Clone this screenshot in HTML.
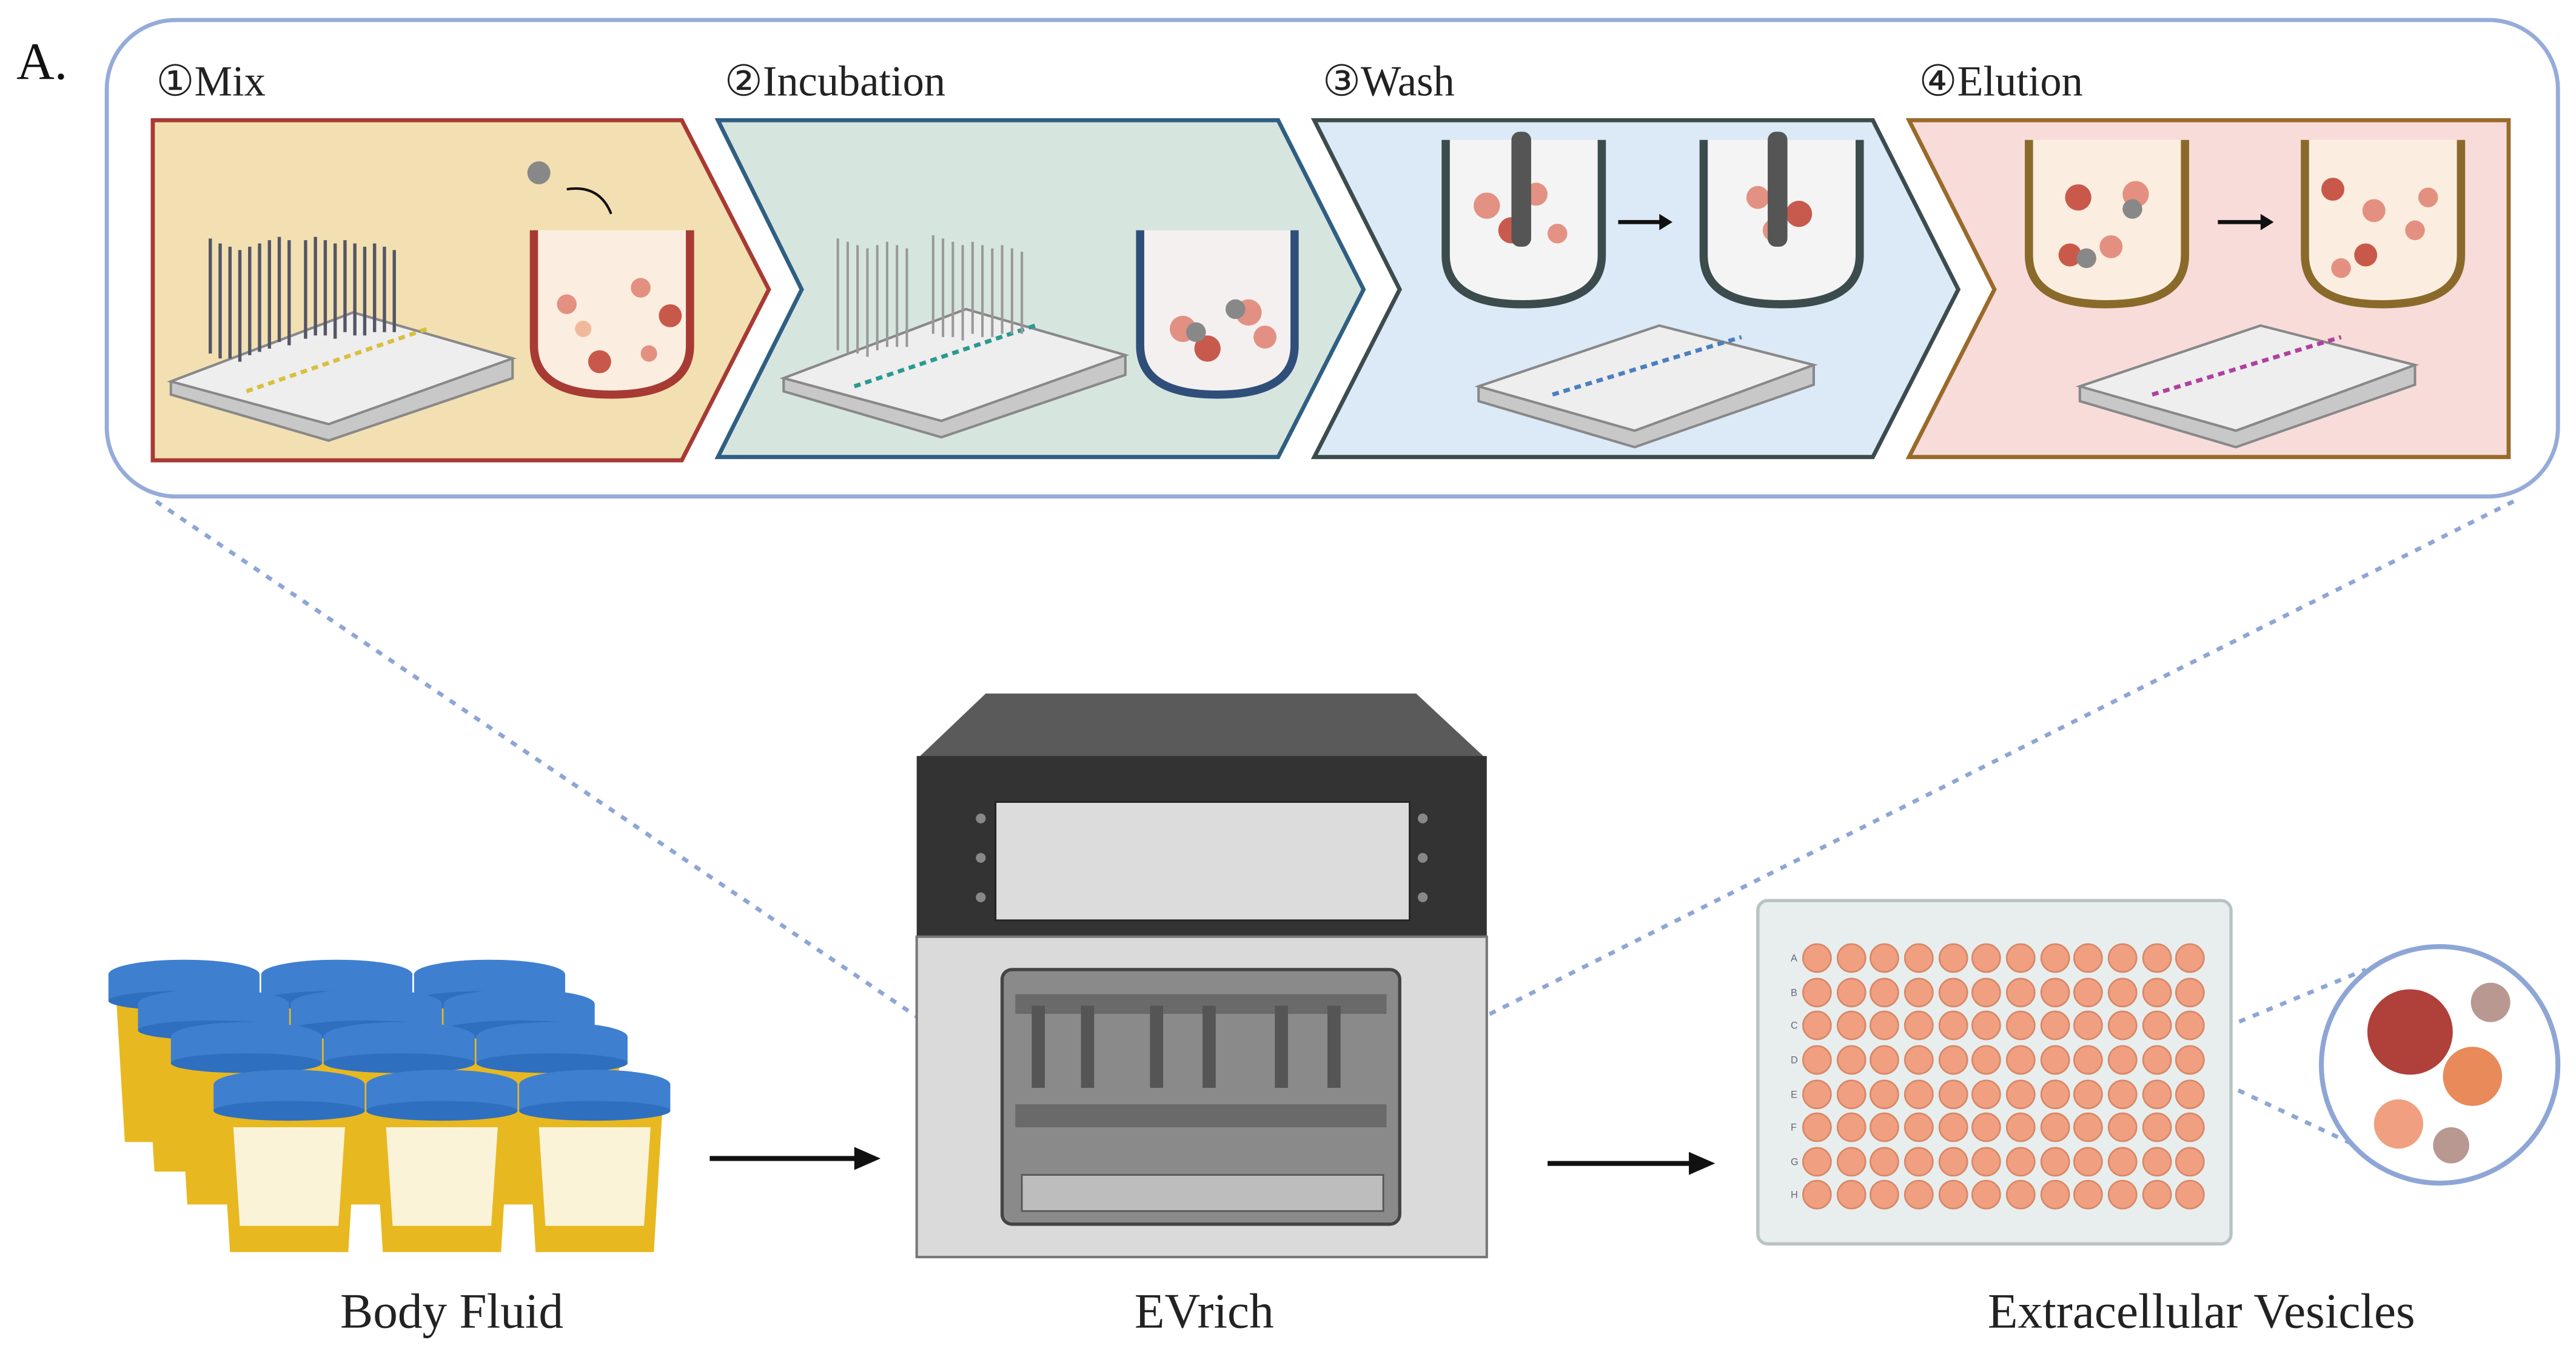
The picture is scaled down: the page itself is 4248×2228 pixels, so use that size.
<!DOCTYPE html>
<html><head><meta charset="utf-8"><style>html,body{margin:0;padding:0;background:#fff}svg{display:block}</style></head>
<body>
<svg width="4248" height="2228" viewBox="0 0 1568 822" xmlns="http://www.w3.org/2000/svg" font-family="Liberation Serif, serif">
<defs>
<g id="row"><circle cx="1106" cy="0" r="8.5"/><circle cx="1127" cy="0" r="8.5"/><circle cx="1147" cy="0" r="8.5"/><circle cx="1168" cy="0" r="8.5"/><circle cx="1189" cy="0" r="8.5"/><circle cx="1209" cy="0" r="8.5"/><circle cx="1230" cy="0" r="8.5"/><circle cx="1251" cy="0" r="8.5"/><circle cx="1271" cy="0" r="8.5"/><circle cx="1292" cy="0" r="8.5"/><circle cx="1313" cy="0" r="8.5"/><circle cx="1333" cy="0" r="8.5"/></g>
<g id="cupb"><path d="M-42,0 L42,0 L36,100 L-36,100 Z" fill="#e8b820"/><ellipse cx="0" cy="-2" rx="46" ry="9" fill="#3f7fd0"/><rect x="-46" y="-2" width="92" height="16" fill="#3f7fd0"/><ellipse cx="0" cy="14" rx="46" ry="6" fill="#2f6fbf"/></g>
<g id="cupf"><path d="M-42,0 L42,0 L36,100 L-36,100 Z" fill="#e8b820"/><path d="M-34,24 L34,24 L30,84 L-30,84 Z" fill="#fbf3d8"/><ellipse cx="0" cy="-2" rx="46" ry="9" fill="#3f7fd0"/><rect x="-46" y="-2" width="92" height="16" fill="#3f7fd0"/><ellipse cx="0" cy="14" rx="46" ry="6" fill="#2f6fbf"/></g>
</defs>
<rect width="1568" height="822" fill="#fff"/>
<text x="10" y="48" font-size="32" fill="#111">A.</text>
<rect x="65" y="12" width="1492" height="290" rx="42" fill="#fff" stroke="#95abd9" stroke-width="2.5"/>
<g stroke="#8ea6d6" stroke-width="2.5" stroke-dasharray="4,5" fill="none">
<line x1="95" y1="305" x2="560" y2="620"/>
<line x1="1530" y1="305" x2="905" y2="618"/>
<line x1="1338" y1="632" x2="1440" y2="590"/>
<line x1="1338" y1="652" x2="1440" y2="700"/>
</g>
<polygon points="93,73 415,73 468,176 415,280 93,280" fill="#f2e0b2" stroke="#a83a34" stroke-width="2.5"/>
<polygon points="437,73 778,73 830,176 778,278 437,278 488,176" fill="#d7e5df" stroke="#2f5f82" stroke-width="2.5"/>
<polygon points="800,73 1140,73 1192,176 1140,278 800,278 852,176" fill="#dce9f7" stroke="#3c4c4c" stroke-width="2.5"/>
<polygon points="1162,73 1527,73 1527,278 1162,278 1214,176" fill="#f8dcda" stroke="#9a6a2a" stroke-width="2.5"/>
<g font-size="26" fill="#222">
<text x="95" y="58">①Mix</text>
<text x="441" y="58">②Incubation</text>
<text x="805" y="58">③Wash</text>
<text x="1168" y="58">④Elution</text>
</g>
<g stroke="#888" stroke-width="1.5">
<polygon points="104,232 215,190 312,218 312,230 200,268 104,240" fill="#c8c8c8"/>
<polygon points="104,232 215,190 312,218 200,258" fill="#eee"/>
<polygon points="477,230 588,188 685,216 685,228 573,266 477,238" fill="#c8c8c8"/>
<polygon points="477,230 588,188 685,216 573,256" fill="#eee"/>
<polygon points="900,235 1010,198 1104,222 1104,234 995,272 900,244" fill="#c8c8c8"/>
<polygon points="900,235 1010,198 1104,222 995,262" fill="#eee"/>
<polygon points="1266,235 1376,198 1470,222 1470,234 1361,272 1266,244" fill="#c8c8c8"/>
<polygon points="1266,235 1376,198 1470,222 1361,262" fill="#eee"/>
</g>
<g stroke-width="2.5">
<line x1="945" y1="240" x2="1060" y2="205" stroke="#4a7fc0" stroke-dasharray="4,3"/>
<line x1="1310" y1="240" x2="1425" y2="205" stroke="#b040a0" stroke-dasharray="4,3"/>
<line x1="520" y1="235" x2="630" y2="198" stroke="#2a9a90" stroke-dasharray="4,3"/>
<line x1="150" y1="238" x2="260" y2="200" stroke="#d8c040" stroke-dasharray="4,3"/>
</g>
<g stroke="#556" stroke-width="2">
<path d="M128,145v70M134,148v70M140,150v68M146,152v68M152,150v66M158,148v66M164,146v66M170,144v64M176,146v64M186,146v60M192,144v60M198,146v58M204,148v58M210,146v56M216,148v56M222,150v54M228,148v54M234,150v52M240,152v50"/>
</g>
<g stroke="#999" stroke-width="1.5">
<path d="M510,145v68M516,147v68M522,149v66M528,151v66M534,149v64M540,147v64M546,149v62M552,151v60M568,143v60M574,145v60M580,147v58M586,149v58M592,147v56M598,149v56M604,151v54M610,149v54M616,151v52M622,153v50"/>
</g>
<g fill="none" stroke-width="5">
<path d="M325,140 V210 Q325,240 372,240 Q420,240 420,210 V140" stroke="#a83a34" fill="#fbeee0"/>
<path d="M694,140 V210 Q694,240 741,240 Q788,240 788,210 V140" stroke="#2f4f7a" fill="#f4f0f0"/>
<path d="M880,85 V155 Q880,185 927,185 Q975,185 975,155 V85" stroke="#3c4c4c" fill="#f4f4f4"/>
<path d="M1037,85 V155 Q1037,185 1084,185 Q1132,185 1132,155 V85" stroke="#3c4c4c" fill="#f4f4f4"/>
<path d="M1235,85 V155 Q1235,185 1282,185 Q1330,185 1330,155 V85" stroke="#8a6a2a" fill="#fbeee0"/>
<path d="M1403,85 V155 Q1403,185 1450,185 Q1498,185 1498,155 V85" stroke="#8a6a2a" fill="#fbeee0"/>
</g>
<g fill="#e08070" opacity="0.85">
<circle cx="345" cy="185" r="6"/><circle cx="390" cy="175" r="6"/><circle cx="408" cy="192" r="7" fill="#c04030"/><circle cx="365" cy="220" r="7" fill="#c04030"/><circle cx="355" cy="200" r="5" fill="#f0b090"/><circle cx="395" cy="215" r="5"/>
<circle cx="720" cy="200" r="8"/><circle cx="735" cy="212" r="8" fill="#c04030"/><circle cx="760" cy="190" r="8"/><circle cx="770" cy="205" r="7"/>
<circle cx="905" cy="125" r="8"/><circle cx="920" cy="140" r="8" fill="#c04030"/><circle cx="935" cy="118" r="7"/><circle cx="948" cy="142" r="6"/>
<circle cx="1070" cy="120" r="7"/><circle cx="1095" cy="130" r="8" fill="#c04030"/><circle cx="1080" cy="140" r="7"/>
<circle cx="1265" cy="120" r="8" fill="#c04030"/><circle cx="1300" cy="118" r="8"/><circle cx="1285" cy="150" r="7"/><circle cx="1260" cy="155" r="7" fill="#c04030"/>
<circle cx="1420" cy="115" r="7" fill="#c04030"/><circle cx="1445" cy="128" r="7"/><circle cx="1470" cy="140" r="6"/><circle cx="1440" cy="155" r="7" fill="#c04030"/><circle cx="1478" cy="120" r="6"/><circle cx="1425" cy="163" r="6"/>
</g>
<g fill="#888"><circle cx="728" cy="202" r="6"/><circle cx="752" cy="188" r="6"/><circle cx="328" cy="105" r="7"/><circle cx="1298" cy="127" r="6"/><circle cx="1270" cy="157" r="6"/></g>
<rect x="920" y="80" width="12" height="70" rx="5" fill="#555"/>
<rect x="1076" y="80" width="12" height="70" rx="5" fill="#555"/>
<g stroke="#111" stroke-width="2.5" fill="#111">
<line x1="985" y1="135" x2="1012" y2="135"/><polygon points="1018,135 1010,130 1010,140" stroke="none"/>
<line x1="1350" y1="135" x2="1378" y2="135"/><polygon points="1384,135 1376,130 1376,140" stroke="none"/>
<path d="M345,115 Q365,112 372,130" fill="none" stroke-width="1.5"/>
</g>
<!-- cups -->
<use href="#cupb" x="112" y="595"/><use href="#cupb" x="205" y="595"/><use href="#cupb" x="298" y="595"/>
<use href="#cupb" x="130" y="613"/><use href="#cupb" x="223" y="613"/><use href="#cupb" x="316" y="613"/>
<use href="#cupb" x="150" y="633"/><use href="#cupb" x="243" y="633"/><use href="#cupb" x="336" y="633"/>
<use href="#cupf" x="176" y="662"/><use href="#cupf" x="269" y="662"/><use href="#cupf" x="362" y="662"/>
<g stroke="#111" stroke-width="3" fill="#111">
<line x1="432" y1="705" x2="522" y2="705"/><polygon points="536,705 520,698 520,712" stroke="none"/>
<line x1="942" y1="708" x2="1030" y2="708"/><polygon points="1044,708 1028,701 1028,715" stroke="none"/>
</g>
<polygon points="600,422 862,422 905,462 558,462" fill="#5a5a5a"/>
<rect x="558" y="460" width="347" height="112" fill="#333"/>
<rect x="606" y="488" width="252" height="72" fill="#dcdcdc" stroke="#222"/>
<g fill="#888"><circle cx="597" cy="498" r="3"/><circle cx="597" cy="522" r="3"/><circle cx="597" cy="546" r="3"/><circle cx="866" cy="498" r="3"/><circle cx="866" cy="522" r="3"/><circle cx="866" cy="546" r="3"/></g>
<rect x="558" y="570" width="347" height="195" fill="#dadada" stroke="#777" stroke-width="1.5"/>
<rect x="610" y="590" width="242" height="155" rx="6" fill="#8a8a8a" stroke="#444" stroke-width="2"/>
<rect x="618" y="605" width="226" height="12" fill="#6a6a6a"/>
<rect x="618" y="672" width="226" height="14" fill="#6a6a6a"/>
<g fill="#555"><rect x="628" y="612" width="8" height="50"/><rect x="658" y="612" width="8" height="50"/><rect x="700" y="612" width="8" height="50"/><rect x="732" y="612" width="8" height="50"/><rect x="776" y="612" width="8" height="50"/><rect x="808" y="612" width="8" height="50"/></g>
<rect x="622" y="715" width="220" height="22" fill="#bdbdbd" stroke="#555"/>
<rect x="1070" y="548" width="288" height="209" rx="6" fill="#e8eeee" stroke="#b8c4c4" stroke-width="2"/>
<g fill="#f0a080" stroke="#d88868">
<use href="#row" y="583"/><use href="#row" y="604"/><use href="#row" y="624"/><use href="#row" y="645"/><use href="#row" y="666"/><use href="#row" y="686"/><use href="#row" y="707"/><use href="#row" y="727"/>
</g>
<g font-family="Liberation Sans, sans-serif" font-size="6" fill="#667">
<text x="1090" y="585">A</text><text x="1090" y="606">B</text><text x="1090" y="626">C</text><text x="1090" y="647">D</text><text x="1090" y="668">E</text><text x="1090" y="688">F</text><text x="1090" y="709">G</text><text x="1090" y="729">H</text>
</g>
<circle cx="1485" cy="648" r="72" fill="#fff" stroke="#8ea6d6" stroke-width="3"/>
<circle cx="1467" cy="628" r="26" fill="#b0403a"/>
<circle cx="1505" cy="655" r="18" fill="#e88a5a"/>
<circle cx="1516" cy="610" r="12" fill="#b89890"/>
<circle cx="1460" cy="684" r="15" fill="#f0a080"/>
<circle cx="1492" cy="697" r="11" fill="#b89890"/>
<g font-size="30" fill="#222" text-anchor="middle">
<text x="275" y="808">Body Fluid</text>
<text x="733" y="808">EVrich</text>
<text x="1340" y="808">Extracellular Vesicles</text>
</g>
</svg>
</body></html>
